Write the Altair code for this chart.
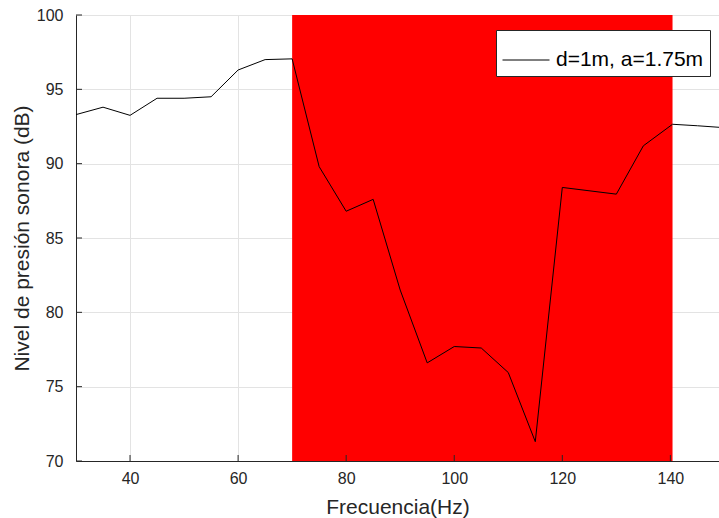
import altair as alt
import pandas as pd

freq = [30, 35, 40, 45, 50, 55, 60, 65, 70, 75, 80, 85, 90, 95, 100, 105, 110, 115, 120, 130, 135, 140.4, 145, 150]
spl = [93.3, 93.8, 93.25, 94.4, 94.4, 94.5, 96.3, 97.0, 97.05, 89.8, 86.8, 87.6, 81.5, 76.6, 77.7, 77.6, 75.95, 71.3, 88.4, 87.95, 91.2, 92.65, 92.55, 92.42]
series_name = "d=1m, a=1.75m"
band_start = [70]
band_end = [140.4]
x_ticks = [40, 60, 80, 100, 120, 140]
y_ticks = [70, 75, 80, 85, 90, 95, 100]

FONT = "Liberation Sans"
TXT = "#262626"

df = pd.DataFrame({"f": freq, "spl": spl, "s": [series_name] * len(freq)})
band = pd.DataFrame({"x": band_start, "x2": band_end, "y": [70], "y2": [100]})

xscale = alt.Scale(domain=[30, 149], nice=False, zero=False)
yscale = alt.Scale(domain=[70, 100], nice=False, zero=False)

xaxis = alt.Axis(values=x_ticks, title="Frecuencia(Hz)", grid=True, gridColor="#e3e3e3",
                 domainColor=TXT, tickColor=TXT, tickSize=0, labelColor=TXT, labelFont=FONT,
                 labelFontSize=16, labelPadding=9, titleFont=FONT, titleFontSize=21,
                 titleFontWeight="normal", titleColor=TXT, titlePadding=10)
yaxis = alt.Axis(values=y_ticks, title="Nivel de presión sonora (dB)", grid=True, gridColor="#e3e3e3",
                 domainColor=TXT, tickColor=TXT, tickSize=0, labelColor=TXT, labelFont=FONT,
                 labelFontSize=16, labelPadding=13, titleFont=FONT, titleFontSize=21,
                 titleFontWeight="normal", titleColor=TXT, titlePadding=4)

rect = alt.Chart(band).mark_rect(color="#ff0000").encode(
    x=alt.X("x:Q", scale=xscale, axis=xaxis),
    x2="x2:Q",
    y=alt.Y("y:Q", scale=yscale, axis=yaxis),
    y2="y2:Q",
)

line = alt.Chart(df).mark_line(strokeWidth=1, clip=True).encode(
    x=alt.X("f:Q", scale=xscale),
    y=alt.Y("spl:Q", scale=yscale),
    color=alt.Color("s:N", scale=alt.Scale(domain=[series_name], range=["black"]),
                    legend=alt.Legend(title=None, orient="none", legendX=420, legendY=15,
                                      fillColor="white", strokeColor=TXT, padding=6,
                                      symbolType="stroke", symbolSize=2209, symbolStrokeWidth=1,
                                      labelFont=FONT, labelFontSize=21, labelColor="black",
                                      labelOffset=6, labelLimit=400)),
)

xt = pd.DataFrame({"v": x_ticks})
yt = pd.DataFrame({"v": y_ticks})
xtick_marks = alt.Chart(xt).mark_rule(color=TXT, strokeWidth=1).encode(
    x=alt.X("v:Q", scale=xscale), y=alt.value(446), y2=alt.value(440))
ytick_marks = alt.Chart(yt).mark_rule(color=TXT, strokeWidth=1).encode(
    y=alt.Y("v:Q", scale=yscale), x=alt.value(0), x2=alt.value(6))

chart = alt.layer(rect, xtick_marks, ytick_marks, line).properties(
    width=643, height=446,
    padding={"left": 76, "top": 15, "right": 0, "bottom": 57},
    autosize=alt.AutoSizeParams(type="none"),
).configure_view(stroke=None).configure(background="white")

chart.save("out.html", embed_options={"renderer": "svg", "actions": False})
